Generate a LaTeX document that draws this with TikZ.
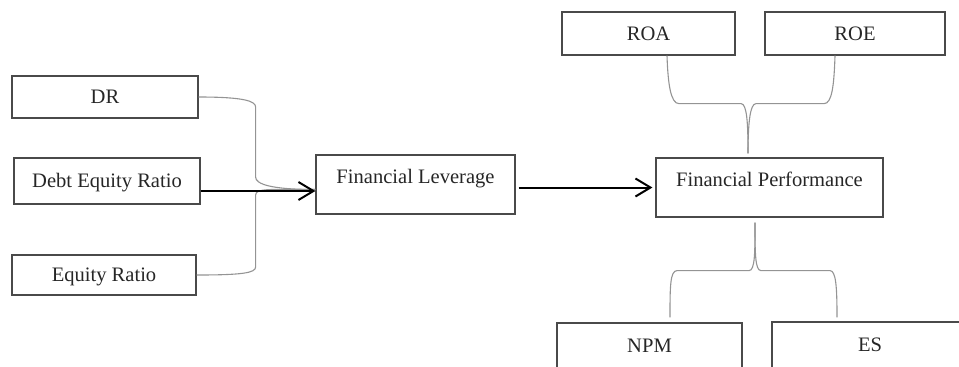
\documentclass[tikz,border=0pt]{standalone}
\usepackage{fontspec}
\setmainfont{Liberation Serif}
\usetikzlibrary{arrows.meta}
\definecolor{boxline}{HTML}{4A4A4A}
\definecolor{braceline}{HTML}{949494}
\tikzstyle{every node}=[font=\fontsize{11.7}{14}\selectfont, text=black!85]
\tikzstyle{box}=[draw=boxline, line width=0.025cm, inner sep=0pt, text height=0.29cm, text depth=0.02cm]
\tikzstyle{tallbox}=[box, text height=0.57cm, text depth=0.61cm]
\tikzstyle{brace}=[draw=braceline, line width=0.022cm]
\tikzstyle{flow}=[-{Straight Barb[length=0.3cm, width=0.36cm]}, line width=0.04cm, black]

\begin{document}
\begin{tikzpicture}[x=0.02cm, y=-0.02cm]
\useasboundingbox (0,0) rectangle (959,366);
% Leverage measures
    \node[box, minimum width=3.72cm, minimum height=0.84cm] (dr) at (105,97) {DR};
    \node[box, minimum width=3.72cm, minimum height=0.92cm] (dte) at (107,181) {Debt Equity Ratio};
    \node[box, minimum width=3.68cm, minimum height=0.80cm] (er) at (104,275) {Equity Ratio};
% Main variables
    \node[tallbox, minimum width=3.98cm] (lev) at (415.5,184.5) {Financial Leverage};
    \node[tallbox, minimum width=4.54cm] (perf) at (769.5,187.5) {Financial Performance};
% Performance measures
    \node[box, minimum width=3.46cm, minimum height=0.86cm] (roa) at (648.5,33.5) {ROA};
    \node[box, minimum width=3.60cm, minimum height=0.86cm] (roe) at (855,33.5) {ROE};
    \node[box, minimum width=3.70cm, minimum height=0.90cm] (npm) at (649.5,345.5) {NPM};
    \node[box, minimum width=3.92cm, minimum height=0.92cm] (es) at (870,345) {ES};
% Left brace
    \draw[brace] (dr.east) .. controls +(45,0) and +(0,-6) .. ++(57,10) -- ++(0,70)
        .. controls +(0,7) and +(-45,0) .. ([yshift=-0.1cm]lev.west);
    \draw[brace] (er.east) .. controls +(45,0) and +(0,6) .. ++(59,-8) -- ++(0,-72)
        .. controls +(0,-7) and +(-45,0) .. ([yshift=-0.1cm]lev.west);
% Top brace
    \draw[brace] ([xshift=0.37cm]roa.south) .. controls +(1,30) and +(-8,0) .. ++(12,48) -- ++(62,0)
        .. controls +(6,0) and +(0,-30) .. ([xshift=-0.43cm, yshift=0.08cm]perf.north);
    \draw[brace] ([xshift=-0.4cm]roe.south) .. controls +(-1,30) and +(8,0) .. ++(-11,48) -- ++(-68,0)
        .. controls +(-6,0) and +(0,-30) .. ([xshift=-0.43cm, yshift=0.08cm]perf.north);
% Bottom brace
    \draw[brace] ([xshift=-0.29cm, yshift=-0.1cm]perf.south) .. controls +(0,30) and +(6,0) .. ++(-6,48) -- ++(-72,0)
        .. controls +(-7,0) and +(0,-30) .. ([xshift=0.41cm, yshift=0.1cm]npm.north);
    \draw[brace] ([xshift=-0.29cm, yshift=-0.1cm]perf.south) .. controls +(0,30) and +(-6,0) .. ++(6,48) -- ++(69,0)
        .. controls +(6,0) and +(0,-30) .. ([xshift=-0.66cm, yshift=0.08cm]es.north);
% Arrows
    \coordinate (dtearrow) at ([yshift=-0.2cm]dte.east);
    \draw[flow] (dtearrow) -- (dtearrow -| lev.west);
    \draw[flow] ([xshift=0.06cm]lev.east |- perf.west) -- ([xshift=-0.06cm]perf.west);
\end{tikzpicture}
\end{document}
